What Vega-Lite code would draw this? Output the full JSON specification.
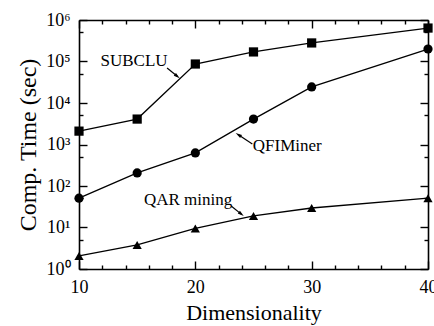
{
  "$schema": "https://vega.github.io/schema/vega-lite/v6.json",
  "width": 349,
  "height": 249,
  "padding": {"left": 79, "top": 20, "right": 6, "bottom": 57},
  "autosize": {"type": "none"},
  "background": "white",
  "config": {
    "view": {"stroke": null},
    "axis": {
      "domainColor": "black",
      "domainWidth": 1.6,
      "tickColor": "black",
      "tickWidth": 1.4,
      "labelColor": "black",
      "titleColor": "black",
      "labelFont": "Liberation Serif",
      "titleFont": "Liberation Serif",
      "labelFontSize": 18,
      "titleFontSize": 23,
      "titleFontWeight": "normal",
      "grid": false,
      "labelOverlap": false,
      "labelBound": false,
      "labelFlush": false
    }
  },
  "datasets": {
    "series": [
      {"dim": 10, "time": 2100, "method": "SUBCLU"},
      {"dim": 15, "time": 4100, "method": "SUBCLU"},
      {"dim": 20, "time": 87000, "method": "SUBCLU"},
      {"dim": 25, "time": 170000, "method": "SUBCLU"},
      {"dim": 30, "time": 280000, "method": "SUBCLU"},
      {"dim": 40, "time": 640000, "method": "SUBCLU"},
      {"dim": 10, "time": 51, "method": "QFIMiner"},
      {"dim": 15, "time": 206, "method": "QFIMiner"},
      {"dim": 20, "time": 627, "method": "QFIMiner"},
      {"dim": 25, "time": 4100, "method": "QFIMiner"},
      {"dim": 30, "time": 24400, "method": "QFIMiner"},
      {"dim": 40, "time": 200000, "method": "QFIMiner"},
      {"dim": 10, "time": 2.06, "method": "QAR mining"},
      {"dim": 15, "time": 3.8, "method": "QAR mining"},
      {"dim": 20, "time": 9.5, "method": "QAR mining"},
      {"dim": 25, "time": 19, "method": "QAR mining"},
      {"dim": 30, "time": 29.5, "method": "QAR mining"},
      {"dim": 40, "time": 51, "method": "QAR mining"}
    ],
    "notes": [
      {"label": "SUBCLU", "tx": 14.73, "ty": 103000, "ax": 17.57, "ay": 69700, "bx": 18.45, "by": 44000},
      {"label": "QFIMiner", "tx": 27.9, "ty": 920, "ax": 24.9, "ay": 1030, "bx": 23.7, "by": 1720},
      {"label": "QAR mining", "tx": 19.38, "ty": 46, "ax": 23.08, "ay": 33, "bx": 23.95, "by": 21}
    ]
  },
  "layer": [
    {
      "data": {"name": "series"},
      "mark": {"type": "line", "color": "black", "strokeWidth": 1.3},
      "encoding": {
        "x": {
          "field": "dim", "type": "quantitative",
          "scale": {"domain": [10, 40], "nice": false, "zero": false},
          "axis": {
            "orient": "bottom",
            "title": "Dimensionality",
            "titleFontSize": 22,
            "values": [10, 12, 14, 16, 18, 20, 22, 24, 26, 28, 30, 32, 34, 36, 38, 40],
            "labelExpr": "datum.value % 10 === 0 ? datum.label : ''",
            "tickSize": {"condition": {"test": "datum.value % 10 === 0", "value": -8}, "value": -4},
            "labelPadding": 17,
            "titlePadding": 2
          }
        },
        "y": {
          "field": "time", "type": "quantitative",
          "scale": {"type": "log", "domain": [1, 1000000], "nice": false},
          "axis": {
            "orient": "left",
            "title": "Comp. Time (sec)",
            "titleFontSize": 24,
            "values": [1, 5, 10, 50, 100, 500, 1000, 5000, 10000, 50000, 100000, 500000, 1000000],
            "labelExpr": "abs(log(datum.value)/LN10 - round(log(datum.value)/LN10)) < 0.01 ? '10' + ['⁰','¹','²','³','⁴','⁵','⁶'][round(log(datum.value)/LN10)] : ''",
            "tickSize": {"condition": {"test": "abs(log(datum.value)/LN10 - round(log(datum.value)/LN10)) < 0.01", "value": -8}, "value": -4},
            "labelPadding": 17,
            "titlePadding": 5
          }
        },
        "detail": {"field": "method"}
      }
    },
    {
      "data": {"name": "series"},
      "mark": {"type": "point", "filled": true, "color": "black", "opacity": 1, "size": 85},
      "encoding": {
        "x": {
          "field": "dim", "type": "quantitative",
          "axis": {
            "orient": "top", "title": null, "labels": false,
            "values": [10, 12, 14, 16, 18, 20, 22, 24, 26, 28, 30, 32, 34, 36, 38, 40],
            "tickSize": {"condition": {"test": "datum.value % 10 === 0", "value": -8}, "value": -4}
          }
        },
        "y": {
          "field": "time", "type": "quantitative",
          "axis": {
            "orient": "right", "title": null, "labels": false,
            "values": [1, 5, 10, 50, 100, 500, 1000, 5000, 10000, 50000, 100000, 500000, 1000000],
            "tickSize": {"condition": {"test": "abs(log(datum.value)/LN10 - round(log(datum.value)/LN10)) < 0.01", "value": -8}, "value": -4}
          }
        },
        "shape": {
          "field": "method", "type": "nominal", "legend": null,
          "scale": {"domain": ["SUBCLU", "QFIMiner", "QAR mining"], "range": ["square", "circle", "triangle-up"]}
        }
      }
    },
    {
      "data": {"name": "notes"},
      "mark": {"type": "text", "font": "Liberation Serif", "fontSize": 17, "color": "black", "align": "center", "baseline": "middle"},
      "encoding": {
        "x": {"field": "tx", "type": "quantitative", "axis": null},
        "y": {"field": "ty", "type": "quantitative", "axis": null},
        "text": {"field": "label"}
      }
    },
    {
      "data": {"name": "notes"},
      "mark": {"type": "rule", "color": "black", "strokeWidth": 1.2},
      "encoding": {
        "x": {"field": "ax", "type": "quantitative", "axis": null},
        "y": {"field": "ay", "type": "quantitative", "axis": null},
        "x2": {"field": "bx"},
        "y2": {"field": "by"}
      }
    },
    {
      "data": {"name": "notes"},
      "mark": {"type": "point", "filled": true, "color": "black", "opacity": 1, "size": 40, "shape": "M0,-1L0.55,1L-0.55,1Z"},
      "encoding": {
        "x": {"field": "bx", "type": "quantitative", "axis": null},
        "y": {"field": "by", "type": "quantitative", "axis": null},
        "angle": {"condition": {"test": "datum.label === 'QFIMiner'", "value": 302}, "value": 129}
      }
    }
  ],
  "resolve": {"axis": {"x": "independent", "y": "independent"}}
}
